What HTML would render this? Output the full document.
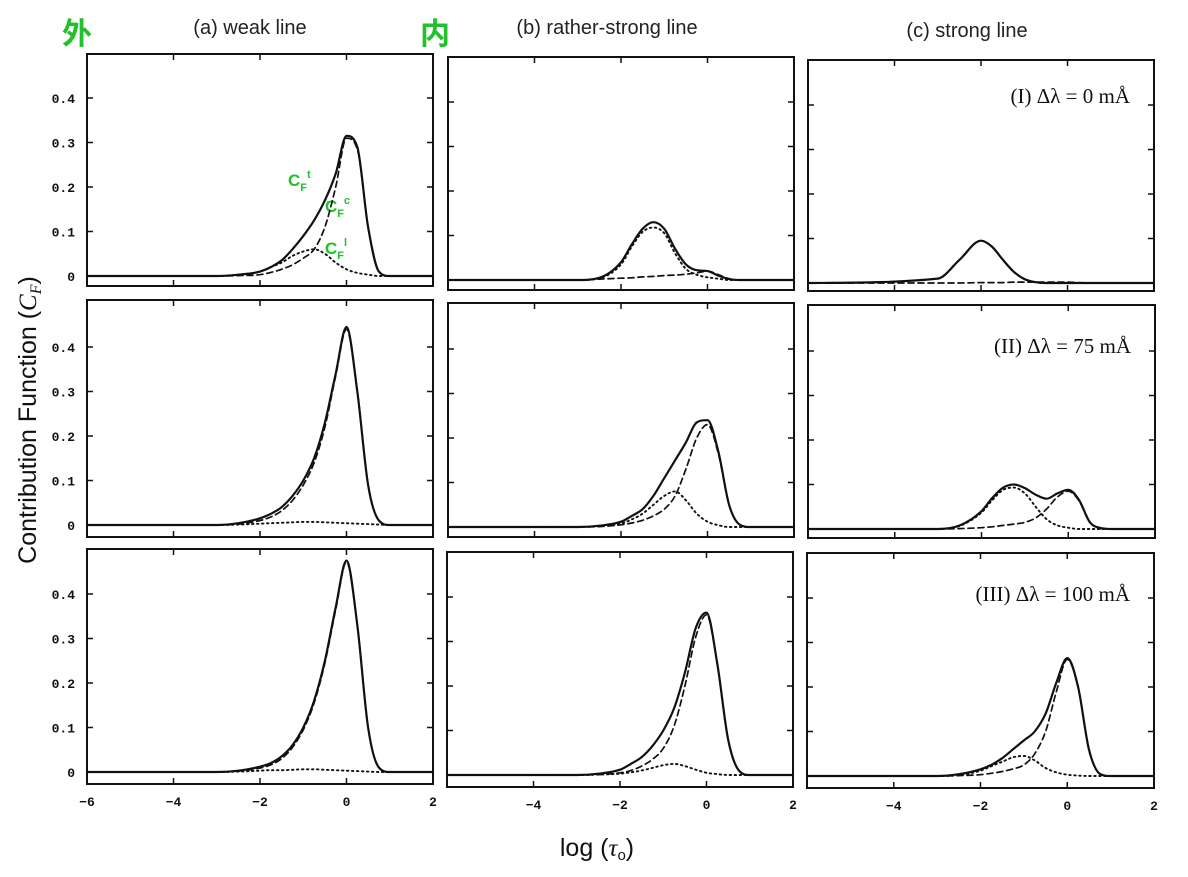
<!DOCTYPE html>
<html><head><meta charset="utf-8">
<style>
html,body{margin:0;padding:0;background:#fff;}
svg{display:block;}
.tl{font-family:"Liberation Sans",sans-serif;font-size:20px;fill:#222;}
.tick{font-family:"Liberation Mono",monospace;font-size:13px;font-weight:bold;fill:#111;}
.lab{font-family:"Liberation Serif",serif;font-size:21px;fill:#111;}
.green{font-family:"Liberation Sans","Noto Sans CJK SC",sans-serif;fill:#22c02a;font-weight:bold;}
</style></head>
<body>
<svg id="fig" width="1188" height="877" viewBox="0 0 1188 877" xmlns="http://www.w3.org/2000/svg">
<text class="tl" x="250" y="34" text-anchor="middle">(a) weak line</text>
<text class="tl" x="607" y="34" text-anchor="middle">(b) rather-strong line</text>
<text class="tl" x="967" y="37" text-anchor="middle">(c) strong line</text>
<text class="green" x="62" y="44" font-size="30">外</text>
<text class="green" x="420" y="44" font-size="30">内</text>
<text class="green" x="288" y="186" font-size="17">C<tspan font-size="11" dy="5">F</tspan><tspan font-size="11" dy="-13">t</tspan></text>
<text class="green" x="325" y="212" font-size="17">C<tspan font-size="11" dy="5">F</tspan><tspan font-size="11" dy="-13">c</tspan></text>
<text class="green" x="325" y="254" font-size="17">C<tspan font-size="11" dy="5">F</tspan><tspan font-size="11" dy="-13">l</tspan></text>
<text x="0" y="0" transform="translate(36,420) rotate(-90)" text-anchor="middle" font-family="Liberation Sans, sans-serif" font-size="25" fill="#111">Contribution Function (<tspan font-family="Liberation Serif, serif" font-style="italic">C</tspan><tspan font-family="Liberation Serif, serif" font-style="italic" font-size="16" dy="5">F</tspan><tspan dy="-5">)</tspan></text>
<text x="597" y="856" text-anchor="middle" font-family="Liberation Sans, sans-serif" font-size="25" fill="#111">log (<tspan font-family="Liberation Serif, serif" font-style="italic">τ</tspan><tspan font-size="15" dy="4">o</tspan><tspan dy="-4">)</tspan></text>
<g id="panels"></g>
</svg>
<script>
const grid = [-6,-3,-2.5,-2,-1.75,-1.5,-1.25,-1,-0.75,-0.5,-0.25,0,0.25,0.5,0.75,1,2];
const yTicks = [0,0.1,0.2,0.3,0.4];
const yTickLabels = ["0","0.1","0.2","0.3","0.4"];
const xTicks = [-6,-4,-2,0,2];
const xTickLabels = ["\u22126","\u22124","\u22122","0","2"];
const rowLabels = ["(I) \u0394\u03bb = 0 m\u00c5","(II) \u0394\u03bb = 75 m\u00c5","(III) \u0394\u03bb = 100 m\u00c5"];

const aI_t = [0,0,0.003,0.01,0.02,0.035,0.06,0.09,0.125,0.17,0.23,0.315,0.29,0.11,0.01,0,0];
const aI_c = [0,0,0.001,0.003,0.008,0.015,0.025,0.04,0.06,0.11,0.2,0.31,0.285,0.11,0.01,0,0];
const aI_l = [0,0,0.003,0.01,0.02,0.03,0.045,0.055,0.06,0.05,0.03,0.015,0.007,0.003,0,0,0];
const bI_t = [0,0,0.005,0.04,0.08,0.115,0.13,0.115,0.07,0.035,0.022,0.02,0.01,0.002,0,0,0];
const bI_c = [0,0,0.002,0.004,0.005,0.007,0.008,0.01,0.011,0.013,0.016,0.02,0.012,0.003,0,0,0];
const bI_l = [0,0,0.004,0.035,0.075,0.108,0.118,0.105,0.06,0.025,0.012,0.006,0.003,0,0,0,0];
const cI_t = [0,0.01,0.052,0.095,0.082,0.053,0.026,0.009,0.002,0,0,0,0,0,0,0,0];
const cI_c = [0,0,0,0.001,0.001,0.001,0.002,0.002,0.002,0.002,0.002,0.002,0.001,0,0,0,0];
const cI_l = [0,0.01,0.052,0.095,0.082,0.053,0.026,0.009,0.002,0,0,0,0,0,0,0,0];
const aII_t = [0,0,0.004,0.015,0.025,0.04,0.065,0.1,0.15,0.23,0.34,0.445,0.3,0.09,0.01,0,0];
const aII_c = [0,0,0.002,0.01,0.018,0.032,0.055,0.09,0.14,0.22,0.335,0.44,0.3,0.09,0.01,0,0];
const aII_l = [0,0,0.001,0.003,0.004,0.005,0.006,0.007,0.007,0.006,0.005,0.004,0.003,0.002,0.001,0,0];
const bII_t = [0,0,0.003,0.012,0.025,0.04,0.07,0.11,0.15,0.19,0.235,0.24,0.17,0.05,0.005,0,0];
const bII_c = [0,0,0.001,0.005,0.009,0.015,0.025,0.04,0.07,0.13,0.2,0.23,0.165,0.05,0.005,0,0];
const bII_l = [0,0,0.002,0.008,0.017,0.03,0.05,0.07,0.08,0.06,0.03,0.012,0.004,0,0,0,0];
const cII_t = [0,0,0.008,0.04,0.07,0.093,0.1,0.092,0.077,0.068,0.08,0.088,0.065,0.015,0.002,0,0];
const cII_c = [0,0,0.001,0.003,0.005,0.008,0.011,0.015,0.025,0.045,0.072,0.085,0.063,0.015,0.001,0,0];
const cII_l = [0,0,0.007,0.037,0.065,0.088,0.093,0.08,0.05,0.022,0.008,0.003,0,0,0,0,0];
const aIII_t = [0,0,0.003,0.012,0.02,0.035,0.06,0.1,0.16,0.25,0.37,0.475,0.33,0.1,0.01,0,0];
const aIII_c = [0,0,0.002,0.009,0.016,0.03,0.055,0.095,0.155,0.245,0.365,0.472,0.33,0.1,0.01,0,0];
const aIII_l = [0,0,0.001,0.003,0.004,0.004,0.005,0.006,0.006,0.005,0.004,0.003,0.002,0.001,0,0,0];
const bIII_t = [0,0,0.003,0.012,0.025,0.04,0.065,0.1,0.15,0.23,0.33,0.365,0.25,0.08,0.01,0,0];
const bIII_c = [0,0,0.001,0.005,0.01,0.02,0.035,0.06,0.11,0.2,0.31,0.36,0.25,0.08,0.01,0,0];
const bIII_l = [0,0,0.001,0.003,0.006,0.01,0.016,0.022,0.025,0.02,0.012,0.005,0.002,0,0,0,0];
const cIII_t = [0,0,0.004,0.015,0.025,0.04,0.06,0.08,0.1,0.14,0.21,0.265,0.2,0.06,0.005,0,0];
const cIII_c = [0,0,0.001,0.003,0.006,0.01,0.016,0.025,0.05,0.1,0.19,0.262,0.2,0.06,0.005,0,0];
const cIII_l = [0,0,0.002,0.012,0.022,0.032,0.042,0.045,0.035,0.018,0.008,0.003,0.001,0,0,0,0];

const panelSeries = [
  [[aI_t,aI_c,aI_l],[bI_t,bI_c,bI_l],[cI_t,cI_c,cI_l]],
  [[aII_t,aII_c,aII_l],[bII_t,bII_c,bII_l],[cII_t,cII_c,cII_l]],
  [[aIII_t,aIII_c,aIII_l],[bIII_t,bIII_c,bIII_l],[cIII_t,cIII_c,cIII_l]]
];

const boxes = [
  [[87,54,433,286,276],[448,57,794,290,280],[808,60,1154,291,283]],
  [[87,300,433,537,525],[448,303,794,537,527],[808,305,1155,538,529]],
  [[87,549,433,784,772],[447,552,793,787,775],[807,553,1154,788,776]]
];
const NS = "http://www.w3.org/2000/svg";
const root = document.getElementById('panels');
function mk(tag, attrs, parent){ const e=document.createElementNS(NS,tag); for(const k in attrs) e.setAttribute(k,attrs[k]); (parent||root).appendChild(e); return e; }

function monoPath(xs, ys){
  const n=xs.length, d=[], m=new Array(n);
  for(let i=0;i<n-1;i++) d.push((ys[i+1]-ys[i])/(xs[i+1]-xs[i]));
  m[0]=d[0]; m[n-1]=d[n-2];
  for(let i=1;i<n-1;i++){ m[i]=(d[i-1]*d[i]<=0)?0:(d[i-1]+d[i])/2; }
  for(let i=0;i<n-1;i++){ if(d[i]===0){m[i]=0;m[i+1]=0;continue;} const a=m[i]/d[i], b=m[i+1]/d[i], s=a*a+b*b; if(s>9){const t=3/Math.sqrt(s); m[i]=t*a*d[i]; m[i+1]=t*b*d[i];} }
  let p="M"+xs[0].toFixed(1)+","+ys[0].toFixed(1);
  for(let i=0;i<n-1;i++){ const h=(xs[i+1]-xs[i])/3;
    p+=" C"+(xs[i]+h).toFixed(1)+","+(ys[i]+m[i]*h).toFixed(1)+" "+(xs[i+1]-h).toFixed(1)+","+(ys[i+1]-m[i+1]*h).toFixed(1)+" "+xs[i+1].toFixed(1)+","+ys[i+1].toFixed(1); }
  return p;
}

const styles = [["solid",null,2.2],["dashed","6,4",1.7],["dotted","1.5,3.5",1.9]];
for(let r=0;r<3;r++){
  for(let c=0;c<3;c++){
    const [L,T,R,B,Z]=boxes[r][c];
    const xS = v => L + (v+6)/8*(R-L);
    const yS = v => Z - v*445;
    const g = mk('g',{});
    
    
    const frame = mk('rect',{x:L,y:T,width:R-L,height:B-T,fill:'none',stroke:'#111','stroke-width':2},g);
    
    
    xTicks.forEach((t,i)=>{
      if(i===0||i===xTicks.length-1) return;
      const x=xS(t);
      mk('line',{x1:x,y1:T,x2:x,y2:T+6,stroke:'#111','stroke-width':1.5},g);
      mk('line',{x1:x,y1:B,x2:x,y2:B-6,stroke:'#111','stroke-width':1.5},g);
    });
    yTicks.forEach((t,i)=>{
      if(i===0) return;
      const y=yS(t);
      mk('line',{x1:L,y1:y,x2:L+6,y2:y,stroke:'#111','stroke-width':1.5},g);
      mk('line',{x1:R,y1:y,x2:R-6,y2:y,stroke:'#111','stroke-width':1.5},g);
    });
    if(c===0){
      yTicks.forEach((t,i)=>{
        const tx=mk('text',{x:L-12,y:yS(t)+5,'text-anchor':'end',class:'tick'},g);
        tx.textContent=yTickLabels[i];
        
        
      });
    }
    if(r===2){
      xTicks.forEach((t,i)=>{
        if(c>0 && i===0) return;
        const tx=mk('text',{x:xS(t),y:B+22,'text-anchor':'middle',class:'tick'},g);
        tx.textContent=xTickLabels[i];
        
        
      });
    }
    if(c===2){
      const tx=mk('text',{x:R-24,y:T+48+(r===0?-5:0),'text-anchor':'end',class:'lab'},g);
      tx.textContent=rowLabels[r];
      
      
    }
    const ser = panelSeries[r][c];
    const xs = grid.map(xS);
    ser.forEach((vals,k)=>{
      const ys = vals.map(yS);
      const a={d:monoPath(xs,ys),fill:'none',stroke:'#111','stroke-width':styles[k][2],'stroke-linecap':'round'};
      if(styles[k][1]) a['stroke-dasharray']=styles[k][1];
      const p=mk('path',a,g);
      
      
    });
  }
}
</script>
</body></html>
